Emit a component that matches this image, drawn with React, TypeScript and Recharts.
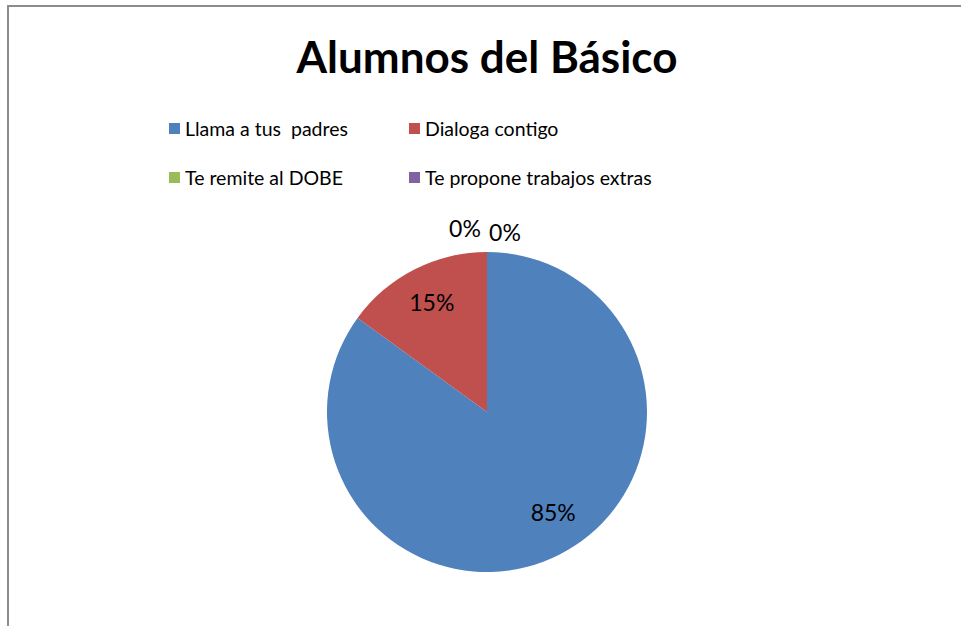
import { PieChart, Pie, Cell } from 'recharts';

const categories = ['Llama a tus  padres', 'Dialoga contigo', 'Te remite al DOBE', 'Te propone trabajos extras'];
const shares = [85, 15, 0, 0];
const colors = ['#4F81BD', '#C0504D', '#9BBB59', '#8064A2'];

const data = categories.map((name, i) => ({ name, value: shares[i] }));

const FONT = 'Lato, "Open Sans", sans-serif';
const RAD = Math.PI / 180;

// small tweaks to sit the labels where the original puts them
const labelNudge = [
  [11, -8],
  [0, -2],
  [-22, -24],
  [18, -20],
];

function SliceLabel(props: any) {
  const { cx, cy, outerRadius, midAngle, value, index } = props;
  let x: number;
  let y: number;
  if (value === 0) {
    // empty slices sit on the top edge, label them just above it
    x = cx + labelNudge[index][0];
    y = cy - outerRadius + labelNudge[index][1];
  } else {
    const r = outerRadius * 0.76;
    x = cx + r * Math.cos(-midAngle * RAD) + labelNudge[index][0];
    y = cy + r * Math.sin(-midAngle * RAD) + labelNudge[index][1];
  }
  return (
    <text x={x} y={y} fill="#000" fontSize={23} fontFamily={FONT} textAnchor="middle" dominantBaseline="central">
      {`${value}%`}
    </text>
  );
}

export default function App() {
  return (
    <div style={{ position: 'absolute', left: 0, top: 0, width: 961, height: 626, overflow: 'hidden', background: '#fff' }}>
      <div style={{ position: 'absolute', left: 7, top: 5, width: 1000, height: 700, borderLeft: '2px solid #8c8c8c', borderTop: '2px solid #8c8c8c' }} />
      <div style={{ position: 'absolute', left: 0, top: 30, width: 974, textAlign: 'center', fontFamily: FONT, fontWeight: 700, fontSize: 44, color: '#000' }}>
        Alumnos del Básico
      </div>
      <div style={{ position: 'absolute', left: 169, top: 113, width: 700, display: 'grid', gridTemplateColumns: '240px 300px', rowGap: 19, fontFamily: FONT, fontSize: 19.5, color: '#000' }}>
        {data.map((d, i) => (
          <div key={d.name} style={{ display: 'flex', alignItems: 'center', height: 30, whiteSpace: 'pre' }}>
            <span style={{ display: 'inline-block', width: 11, height: 11, background: colors[i], marginRight: 5 }} />
            {d.name}
          </div>
        ))}
      </div>
      <PieChart width={961} height={626} margin={{ top: 0, right: 0, bottom: 0, left: 0 }} style={{ position: 'absolute', left: 0, top: 0 }}>
        <Pie
          data={data}
          dataKey="value"
          nameKey="name"
          cx={487}
          cy={412}
          outerRadius={160}
          startAngle={90}
          endAngle={-270}
          stroke="none"
          label={SliceLabel}
          labelLine={false}
          isAnimationActive={false}
        >
          {data.map((d, i) => (
            <Cell key={d.name} fill={colors[i]} />
          ))}
        </Pie>
      </PieChart>
    </div>
  );
}
